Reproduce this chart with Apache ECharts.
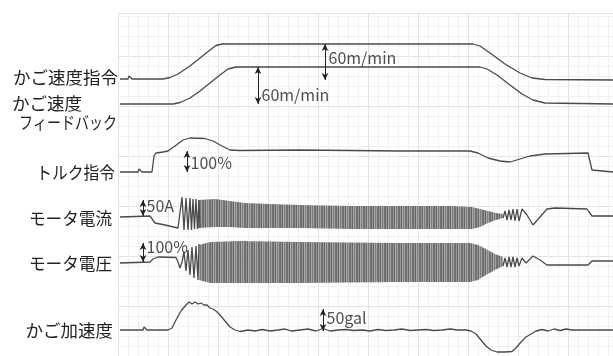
<!DOCTYPE html>
<html>
<head>
<meta charset="utf-8">
<script src="https://cdn.jsdelivr.net/npm/echarts@6/dist/echarts.min.js"></script>
<style>
    html, body{
        margin: 0;
        padding: 0;
        background: #fff;
    }
    #wave{
        width: 613px;
        height: 356px;
    }
</style>
</head>
<body>
<div id="wave"></div>
<script>
    // time axis: 0..495, level axis: 0..343 (chart paper units)
    var speedRef = [[2,277],[10,277],[11,280],[13,280],[14,277],[45,277],[52,278.5],[60,282],[72,290],[82,298],[92,306],[98,310.5],[104,312],
        [355,312],[362,310],[372,303],[387,292],[402,283],[414,278],[427,276.5],[495,276]];
    var speedFb = [[2,252],[14,252],[15,254],[16,252],[55,252],[62,253.5],[72,258],[82,265],[92,273],[102,281],[110,287],[118,289],
        [362,289],[369,287],[379,281],[392,271],[404,262],[415,256],[427,253],[495,252]];
    var torque = [[2,184],[20,184],[21,187],[23,187],[24,184],[34,184],[36,200],[38,203],[45,204],[50,205],[57,210],[65,216],[72,218],
        [87,217.5],[95,215],[104,210],[112,206],[122,205.5],[182,206],[282,205],[352,205],[360,203],[370,198],[382,195],[392,194],
        [402,197],[412,200],[427,202],[470,203],[472,201],[474,186],[476,184],[495,184]];

    var currentStart = [[2,139],[32,140],[34,138],[37,133],[47,131],[60,128],[62,130],[64,159],[66,126],[68,158],[70,126],[72,158],
        [73.5,126],[75,157],[76.5,127],[78,157],[79.5,127],[81,156],[82,128]];
    var currentBandT = [80, 97, 112, 127, 152, 182, 232, 282, 332, 354, 362, 370, 378, 385];
    var currentBandTop = [156, 157, 155, 153, 152, 151, 150, 150, 150, 149, 147, 145, 143, 142];
    var currentBandBottom = [128, 129, 129, 128, 128, 128, 127, 127, 127, 127, 129, 133, 136, 138];
    var currentEnd = [[385,138],[387,145],[389,136],[391,146],[393,136],[395,147],[397,135],[399,147],[401,135],[404,147],[409,141],
        [415,131],[422,139],[429,147],[437,148],[469,147],[471,144],[474,140],[495,140]];

    var voltageStart = [[2,93],[32,94],[35,97],[40,99],[58,98.5],[60,94],[62,88],[64,94],[66,104],[68,85],[70,106],[72,81],[74,109],
        [76,78],[78,110],[80,76],[81,112]];
    var voltageBandT = [81, 92, 122, 182, 282, 352, 360, 368, 377, 385];
    var voltageBandTop = [111, 114, 115, 114, 113, 113, 111, 107, 102, 99];
    var voltageBandBottom = [76, 73, 73, 73, 74, 74, 76, 81, 86, 90];
    var voltageEnd = [[385,90],[387,98],[389,89],[391,99],[393,89],[395,99],[397,89],[399,98],[401,90],[404,98],[408,93],[415,100],
        [422,96],[429,91],[442,91],[470,91],[472,93],[474,95],[495,95]];

    var accel = [[2,26],[25,26],[26,29],[28,29],[29,26],[50,26],[54,28],[58,36],[63,45],[68,51],[71,54],[74,52],[77,54],[80,52],[83,53],
        [86,51],[89,51],[92,48],[95,47],[98,45],[102,41],[107,35],[112,29],[117,26],[122,24.5],[130,26],[137,25],[144,26.5],[152,25],
        [160,26],[167,27],[174,25],[182,26],[190,27],[198,25],[205,27.5],[212,25],[220,26],[228,26.5],[236,25.5],[244,26],[252,25],
        [260,26.5],[268,25.5],[276,26],[284,27],[292,25.5],[300,26],[308,26.5],[316,25.5],[324,26],[332,27],[340,26],[348,26],[353,25],
        [358,22],[363,16],[368,10],[373,6],[379,4],[387,4],[394,4.5],[398,8],[403,14],[408,19],[413,22],[418,25],[424,26.5],[430,25],
        [436,27],[442,25.5],[448,27],[454,26],[495,26]];

    // scale arrows: [time, from, to]
    var scaleArrows = [[140,289,252],[207,312,276],[69,205,184],[25,156,140],[25,113,94],[205,47,25]];
    // scale texts: [time, level, text]
    var scaleTexts = [[140,261,'60m/min'],[207,298,'60m/min'],[69,193,'100%'],[25,150,'50A'],[25,109,'100%'],[205,38,'50gal']];

    var FONT = '"Noto Sans CJK JP", "Noto Sans", sans-serif';
    var INK = '#4a4a4a';

    // stripe pattern for the dense oscillation bands
    var stripe = document.createElement('canvas');
    stripe.width = 7;
    stripe.height = 6;
    var sctx = stripe.getContext('2d');
    var stripeCols = ['#616161', '#8e8e8e', '#575757', '#a6a6a6', '#727272', '#999999', '#686868'];
    for (var i = 0; i < stripeCols.length; i++) {
        sctx.fillStyle = stripeCols[i];
        sctx.fillRect(i, 0, 1, 6);
    }

    function trace(data) {
        return {
            type: 'line',
            data: data,
            symbol: 'none',
            silent: true,
            lineStyle: {color: INK, width: 1.3},
            z: 3
        };
    }

    // envelope of the dense oscillation, drawn as one polygon through the axes
    function band(t, top, bottom) {
        var data = t.map(function (x, i) { return [x, top[i], bottom[i]]; });
        return {
            type: 'custom',
            silent: true,
            data: data,
            z: 2,
            renderItem: function (params, api) {
                if (params.dataIndex !== 0) return;
                var upper = data.map(function (d) { return api.coord([d[0], d[1]]); });
                var lower = data.map(function (d) { return api.coord([d[0], d[2]]); }).reverse();
                return {
                    type: 'polygon',
                    shape: {points: upper.concat(lower)},
                    style: {fill: {image: stripe, repeat: 'repeat'}, opacity: 0.92}
                };
            }
        };
    }

    var leftLabels = [
        {text: 'かご速度指令', x: 118, y: 77, align: 'right', sx: 1},
        {text: 'かご速度', x: 12, y: 103, align: 'left', sx: 1},
        {text: 'フィードバック', x: 117, y: 122, align: 'right', sx: 0.8},
        {text: 'トルク指令', x: 115, y: 172, align: 'right', sx: 0.9},
        {text: 'モータ電流', x: 112, y: 218, align: 'right', sx: 0.95},
        {text: 'モータ電圧', x: 112, y: 263, align: 'right', sx: 0.95},
        {text: 'かご加速度', x: 113, y: 330, align: 'right', sx: 1}
    ];

    var myChart = echarts.init(document.getElementById('wave'));
    var option = {
        backgroundColor: '#fff',
        animation: false,
        grid: {left: 118, right: 0, top: 13, bottom: 0},
        xAxis: {
            type: 'value', min: 0, max: 495, interval: 50,
            axisLine: {show: false}, axisTick: {show: false}, axisLabel: {show: false},
            splitLine: {show: true, lineStyle: {color: '#e2e2e2', width: 1}},
            minorTick: {show: false, splitNumber: 5},
            minorSplitLine: {show: true, lineStyle: {color: '#f1f1f1', width: 1}}
        },
        yAxis: {
            type: 'value', min: 0, max: 343, interval: 50,
            axisLine: {show: false}, axisTick: {show: false}, axisLabel: {show: false},
            splitLine: {show: true, lineStyle: {color: '#e2e2e2', width: 1}},
            minorTick: {show: false, splitNumber: 5},
            minorSplitLine: {show: true, lineStyle: {color: '#f1f1f1', width: 1}}
        },
        graphic: leftLabels.map(function (l) {
            return {
                type: 'text', x: l.x, y: l.y, originX: 0, originY: 0, scaleX: l.sx,
                style: {text: l.text, font: '17.5px ' + FONT, fill: '#222', align: l.align, verticalAlign: 'middle'}
            };
        }),
        series: [
            trace(speedRef),
            trace(speedFb),
            trace(torque),
            trace(currentStart),
            band(currentBandT, currentBandTop, currentBandBottom),
            trace(currentEnd),
            trace(voltageStart),
            band(voltageBandT, voltageBandTop, voltageBandBottom),
            trace(voltageEnd),
            trace(accel),
            {
                type: 'scatter',
                data: scaleTexts,
                symbolSize: 1,
                silent: true,
                itemStyle: {color: 'rgba(0,0,0,0)'},
                label: {
                    show: true, position: 'right', distance: 3,
                    formatter: function (p) { return p.data[2]; },
                    color: '#222', fontSize: 16, fontFamily: FONT
                },
                markLine: {
                    silent: true,
                    symbol: ['arrow', 'arrow'],
                    symbolSize: [5, 7],
                    label: {show: false},
                    lineStyle: {color: '#222', width: 1, type: 'solid'},
                    data: scaleArrows.map(function (a) {
                        return [{coord: [a[0], a[1]]}, {coord: [a[0], a[2]]}];
                    })
                },
                z: 5
            }
        ]
    };
    myChart.setOption(option);
</script>
</body>
</html>
